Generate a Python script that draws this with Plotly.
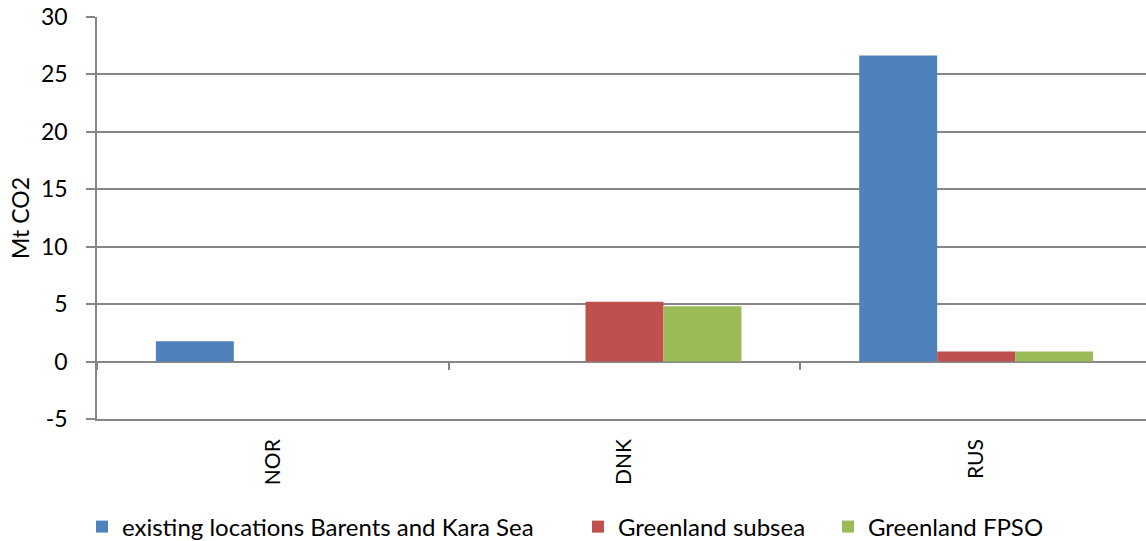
import plotly.graph_objects as go

countries = ["NOR", "DNK", "RUS"]
existing_barents_kara = [1.77, 0, 26.65]
greenland_subsea = [0, 5.21, 0.87]
greenland_fpso = [0, 4.81, 0.87]

y_ticks = [-5, 0, 5, 10, 15, 20, 25, 30]
y_tick_text = ["-5", "0", "5", "10", "15", "20", "25", "30"]

series = [
    ("existing locations Barents and Kara Sea", existing_barents_kara, "#4F81BD", "legend"),
    ("Greenland subsea", greenland_subsea, "#C0504D", "legend2"),
    ("Greenland FPSO", greenland_fpso, "#9BBB59", "legend3"),
]

FONT = "Lato, Open Sans, sans-serif"
GRID = "#868686"

fig = go.Figure()
for name, vals, color, leg in series:
    fig.add_trace(go.Bar(x=countries, y=vals, name=name, marker_color=color,
                         marker_line_width=0, legend=leg))

# category-boundary tick marks along the zero line
fig.add_trace(go.Scatter(x=countries, y=[None] * 3, xaxis="x2", showlegend=False,
                         hoverinfo="skip"))

legend_style = dict(orientation="h", xanchor="left", yref="container",
                    y=(541 - 527) / 541, yanchor="middle",
                    font=dict(size=24), itemwidth=30, bgcolor="rgba(0,0,0,0)")

fig.update_layout(
    width=1146, height=541,
    margin=dict(l=97, r=0, t=17, b=122, autoexpand=False),
    plot_bgcolor="white", paper_bgcolor="white",
    barmode="group", bargap=0.335, bargroupgap=0,
    font=dict(family=FONT, size=23, color="#000000"),
    xaxis=dict(
        range=[-0.5, 2.483], showgrid=False, automargin=False,
        showline=True, linecolor=GRID, linewidth=1.5, ticks="",
        tickangle=-90, tickfont=dict(size=21),
        ticklabelstandoff=10,
    ),
    xaxis2=dict(
        matches="x", anchor="free", position=5 / 35, overlaying="x",
        showticklabels=False, showgrid=False, showline=False,
        ticks="outside", tickson="boundaries", ticklen=7, tickcolor=GRID,
        tickwidth=1.5,
    ),
    yaxis=dict(
        range=[-5, 30], tickvals=y_ticks, ticktext=y_tick_text, automargin=False,
        showgrid=True, gridcolor=GRID, gridwidth=1.5,
        zeroline=True, zerolinecolor=GRID, zerolinewidth=1.5,
        showline=True, linecolor=GRID, linewidth=1.5,
        ticks="outside", ticklen=9, tickcolor=GRID, tickwidth=1.5,
        tickfont=dict(size=23), ticklabelstandoff=14,
        title=dict(text="Mt CO2", font=dict(size=23), standoff=5),
    ),
    legend=dict(x=(82 - 97) / 1049, **legend_style),
    legend2=dict(x=(578 - 97) / 1049, **legend_style),
    legend3=dict(x=(828 - 97) / 1049, **legend_style),
)

fig.write_html("out.html")
